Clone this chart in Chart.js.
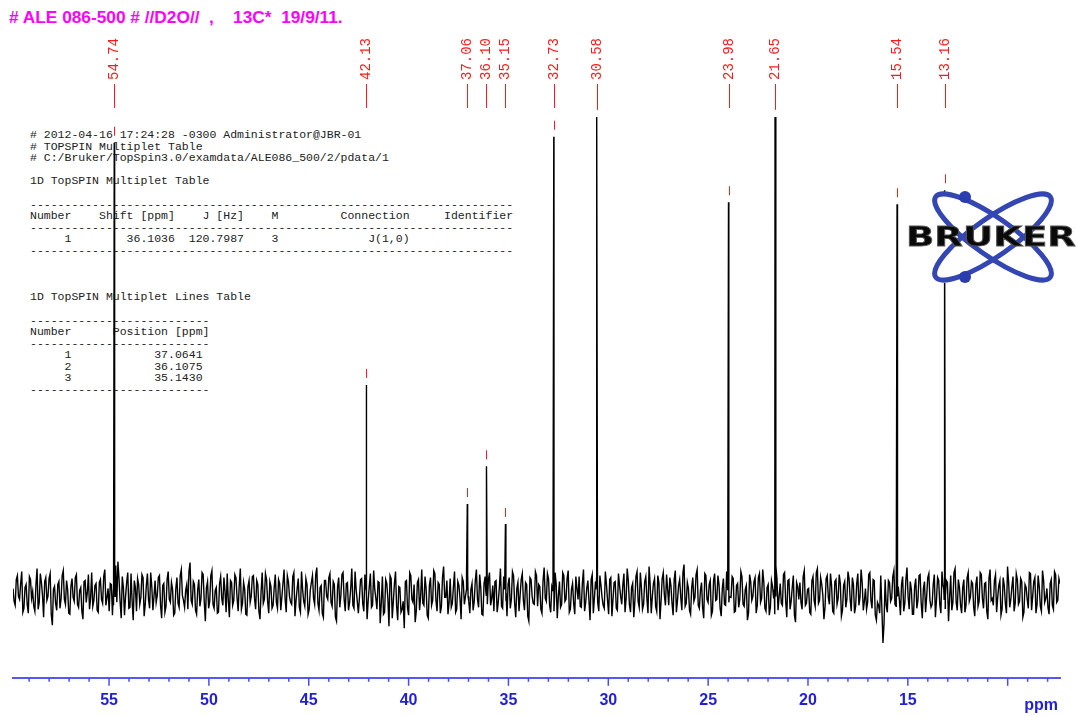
<!DOCTYPE html>
<html>
<head>
<meta charset="utf-8">
<script src="https://cdn.jsdelivr.net/npm/chart.js@4.4.1/dist/chart.umd.min.js"></script>
<style>
  body { margin: 0; background: #fff; }
  #wrap { position: relative; width: 1076px; height: 716px; overflow: hidden; }
  #title { position: absolute; left: 9px; top: 9px; font: bold 17.3px "Liberation Sans", Arial, sans-serif; line-height: 17px; color: #ff00ff; white-space: pre; }
  #table { position: absolute; left: 30px; top: 129px; margin: 0; font: 11.5px "Liberation Mono", monospace; line-height: 11.6px; color: #222; z-index: 0; }
  #spec { position: absolute; left: 0; top: 0; z-index: 1; }
  #logo { position: absolute; left: 900px; top: 188px; z-index: 2; }
</style>
</head>
<body>
<div id="wrap">
<div id="title"># ALE 086-500 # //D2O//  ,    13C*  19/9/11.</div>
<pre id="table"># 2012-04-16 17:24:28 -0300 Administrator@JBR-01
# TOPSPIN Multiplet Table
# C:/Bruker/TopSpin3.0/examdata/ALE086_500/2/pdata/1

1D TopSPIN Multiplet Table

----------------------------------------------------------------------
Number    Shift [ppm]    J [Hz]    M         Connection     Identifier
----------------------------------------------------------------------
     1        36.1036  120.7987    3             J(1,0)
----------------------------------------------------------------------



1D TopSPIN Multiplet Lines Table

--------------------------
Number      Position [ppm]
--------------------------
     1            37.0641
     2            36.1075
     3            35.1430
--------------------------</pre>
<canvas id="spec" width="1076" height="716"></canvas>
<svg id="logo" width="176" height="100" viewBox="900 188 176 100">
  <rect x="930" y="192" width="146" height="91" fill="#fff"/>
  <ellipse cx="993" cy="237" rx="70" ry="19" transform="rotate(35 993 237)" fill="none" stroke="#3346b3" stroke-width="5"/>
  <ellipse cx="993" cy="237" rx="70" ry="19" transform="rotate(-35 993 237)" fill="none" stroke="#3346b3" stroke-width="5"/>
  <circle cx="965" cy="197" r="6" fill="#2a3cb0"/>
  <circle cx="965" cy="277" r="6" fill="#2a3cb0"/>
  <text x="906" y="246" font-family="DejaVu Sans" font-weight="bold" font-size="27" textLength="170" lengthAdjust="spacingAndGlyphs" fill="#0a0a0a" stroke="#555" stroke-width="0.8">BRUKER</text>
</svg>
</div>
<script>
const spectrum_canvas = document.getElementById("spec");

// ppm range of the plot
const ppmLeft = 59.81;
const ppmRight = 7.38;

// labelled peaks and their heights (above baseline)
const peakPpm = [54.74, 42.13, 37.06, 36.10, 35.15, 32.73, 30.58, 23.98, 21.65, 15.54, 13.16];
const peakHeight = [454, 210, 90, 128, 70, 460, 480, 394, 480, 392, 406];

// axis labels
const majorTicks = [55, 50, 45, 40, 35, 30, 25, 20, 15];

// baseline noise, evenly spaced samples from ppmLeft to ppmRight
const noise = [
  5,-12,18,-6,22,-15,9,-20,14,2,-18,25,-9,11,-24,16,-3,20,-32,7,
  -17,12,-5,23,-11,4,-21,15,-8,19,-14,6,-26,13,1,-16,21,-7,10,-19,
  14,-10,24,-4,-18,9,-12,28,32,-8,17,-22,11,-15,20,-27,6,15,-11,19,
  -23,8,-6,21,-17,13,-2,18,-25,10,-13,22,-9,4,-20,16,-14,24,-7,3,
  -16,31,-11,9,-21,14,-5,19,-28,12,-8,23,-15,6,-19,17,-12,2,20,-24,
  11,-7,16,-18,25,-10,4,-22,13,-3,18,-16,9,-26,21,-6,14,-20,7,-12,
  19,-15,10,-4,24,-19,12,-9,17,-23,5,-14,22,-8,15,-21,3,18,-11,26,
  -17,8,-24,13,-6,20,-13,9,-28,16,-2,21,-18,11,-9,25,-15,4,-20,14,
  -10,19,-26,7,-14,23,-5,12,-30,17,-19,10,-33,15,-8,22,-27,6,-16,-35,
  13,-22,18,-9,-29,11,-17,24,-12,5,-25,16,-7,20,-18,9,-13,27,-4,-21,
  15,-10,22,-16,8,-26,12,-3,19,-20,10,-8,24,-14,6,-22,17,-11,21,-5,
  -18,13,-9,25,-15,4,-23,16,-6,18,-24,11,-2,20,-17,9,-28,14,-10,22,
  -13,7,-20,26,-8,15,-19,3,21,-25,12,-11,18,-6,23,-16,10,-21,5,17,
  -14,24,-9,13,-27,19,-4,16,-18,8,-12,22,-7,14,-23,11,-15,20,-3,9,
  -19,25,-11,6,-24,17,-8,21,-16,12,-5,27,-20,10,-13,18,-26,15,-2,19,
  -12,8,-22,23,-7,14,-17,29,-10,5,-21,16,-4,24,-15,11,-25,18,-9,13,
  -18,20,-6,9,-23,15,-12,26,-3,17,-19,8,-14,22,-11,4,-27,19,-7,12,
  -20,16,-9,24,-15,6,-22,13,-5,28,-17,10,-12,21,-24,14,-8,18,-29,7,
  11,-16,23,-10,5,-21,17,-13,25,-7,9,-26,15,-4,20,-18,12,-11,19,-23,
  8,-14,22,-6,16,-20,10,-12,24,-17,5,-9,21,-15,13,-27,-12,18,-50,14,
  -19,11,-5,23,-13,7,-22,17,-10,26,-16,4,-21,15,-7,19,-25,12,-3,20,
  -14,9,-24,16,-11,22,-6,13,-28,18,-9,25,-17,6,-20,14,-12,21,-4,10,
  -23,17,-8,19,-15,11,-26,24,-5,13,-19,8,-22,16,-10,27,-14,7,-18,20,
  -11,15,-24,9,-6,21,-17,12,-20,18,-13,23,-9,5,-21,14,-16,19,-7,10
];

// noise samples lying half a step after each of the above
const noiseOdd = [
  -8,14,-3,10,-19,6,-11,17,-5,-13,9,-16,20,-2,12,-7,15,-21,4,-10,
  9,-15,18,-6,13,-20,7,-4,16,-11,3,-18,12,-9,19,-5,-13,8,-17,11,
  -6,17,-12,5,10,-22,19,-9,15,-25,6,-3,21,-14,-8,13,-18,9,-4,16,
  -11,20,-15,7,-3,-9,16,-12,8,-19,14,-6,11,-22,5,-10,18,-2,-14,9,
  22,-7,12,-17,4,-13,21,-8,6,-15,18,-11,3,-20,10,-5,16,-19,-7,13,
  -12,19,-4,8,-16,11,-21,7,-9,17,-5,13,-18,2,-10,20,-8,12,-15,6,
  -9,14,-17,10,-6,18,-3,-11,21,-7,15,-19,4,-13,9,-16,11,-5,19,-10,
  6,-20,13,-3,16,-9,12,-24,7,-14,19,-6,10,-17,5,-12,22,-8,-4,15,
  -18,9,-7,20,-12,4,-16,11,-9,-21,14,-5,18,-25,10,-13,7,-19,-8,12,
  -15,21,-6,9,-18,14,-3,-10,17,-22,8,-12,23,-7,11,-20,16,-4,13,-9,
  -14,7,-19,12,-5,16,-11,20,-8,4,-17,13,-6,19,-21,10,-2,14,-12,8,
  12,-19,6,-13,17,-4,9,-15,22,-10,5,-18,14,-7,11,-23,16,-3,-11,18,
  9,-16,13,-5,20,-12,7,-18,10,-3,-14,21,-8,15,-19,4,-10,17,-6,-13,
  11,-18,5,-7,14,-20,12,-9,18,-4,-15,9,-21,16,-6,12,-17,8,-11,20,
  -5,13,-19,10,-8,22,-14,6,-11,17,-20,9,-3,15,-18,11,-7,21,-12,4,
  16,-10,14,-19,8,-4,21,-13,11,-17,6,-8,19,-12,3,-15,20,-6,9,-22,
  13,-7,18,-15,5,-11,22,-9,-4,15,-18,10,-6,17,-13,8,-20,12,-3,16,
  -12,20,-5,11,-18,9,-14,7,-21,15,-3,-10,19,-8,13,-16,6,-22,11,-6,
  -9,17,-12,4,-19,13,-7,21,-10,16,-2,-14,18,-11,8,-20,14,-5,10,-17,
  12,-6,15,-18,9,-13,20,-4,11,-8,-16,19,-7,14,-22,-9,-20,-15,-30,-12,
  13,-8,17,-11,20,-6,9,-18,14,-3,12,-21,7,-15,18,-10,5,-19,16,-7,
  -11,19,-6,13,-20,8,-15,11,-4,-17,21,-9,14,-12,6,-19,16,-8,12,-14,
  9,-13,21,-5,10,-18,15,-7,-12,19,-4,13,-16,8,-20,11,-6,17,-10,14,
  -8,12,-19,6,-15,20,-3,16,-11,7,-18,13,-5,-14,10,-12,22,-9,15
];

function buildPoints(){
    let pts = [];
    let step = (ppmLeft - ppmRight) / (noise.length - 1);
    for(let i = 0; i < noise.length; i++){
        pts.push({x: ppmLeft - i * step, y: noise[i]});
    }
    for(let i = 0; i < noiseOdd.length; i++){
        pts.push({x: ppmLeft - (i + 0.5) * step, y: noiseOdd[i]});
    }
    for(let i = 0; i < peakPpm.length; i++){
        pts.push({x: peakPpm[i] + 0.04, y: 4});
        pts.push({x: peakPpm[i], y: peakHeight[i]});
        pts.push({x: peakPpm[i] - 0.04, y: -3});
    }
    pts.sort((a, b) => b.x - a.x);
    return pts;
}

const blue = '#1f1fe0';

const peakMarks = {
    id: 'peakMarks',
    afterDraw(chart){
        const ctx = chart.ctx;
        const xs = chart.scales.x;
        const ys = chart.scales.y;
        const area = chart.chartArea;
        ctx.save();

        // axis tick marks, long on the labelled values
        ctx.strokeStyle = '#4b4bf5';
        ctx.lineWidth = 1.5;
        xs.ticks.forEach(t => {
            if(t.value < ppmRight || t.value > ppmLeft) return;
            let px = xs.getPixelForValue(t.value);
            let len = t.value % 5 === 0 ? 8 : 4;
            ctx.beginPath();
            ctx.moveTo(px, area.bottom);
            ctx.lineTo(px, area.bottom + len);
            ctx.stroke();
        });

        ctx.fillStyle = blue;
        ctx.font = 'bold 16px "Liberation Sans"';
        ctx.textAlign = 'right';
        ctx.textBaseline = 'middle';
        ctx.fillText('ppm', area.right - 2, 706);

        // peak labels + markers
        ctx.strokeStyle = '#ff1a1a';
        ctx.fillStyle = '#ff1a1a';
        ctx.lineWidth = 1;
        ctx.font = '14px "Liberation Mono"';
        for(let i = 0; i < peakPpm.length; i++){
            let px = Math.round(xs.getPixelForValue(peakPpm[i])) + 0.5;
            let py = ys.getPixelForValue(peakHeight[i]);
            ctx.beginPath();
            ctx.moveTo(px, 84);
            ctx.lineTo(px, 108);
            ctx.moveTo(px, py - 16);
            ctx.lineTo(px, py - 7);
            ctx.stroke();
            ctx.save();
            ctx.translate(px, 80);
            ctx.rotate(-Math.PI / 2);
            ctx.textAlign = 'left';
            ctx.textBaseline = 'middle';
            ctx.fillText(peakPpm[i].toFixed(2), 0, 0);
            ctx.restore();
        }
        ctx.restore();
    }
};

let spectrumChart = new Chart(spectrum_canvas, {
    type: 'line',
    data: {
        datasets: [{
            label: '13C',
            data: buildPoints(),
            borderColor: '#000',
            borderWidth: 1.4,
            pointRadius: 0,
            tension: 0,
            fill: false
        }]
    },
    options: {
        responsive: false,
        animation: false,
        events: [],
        layout: { padding: { top: 100, left: 13, right: 16, bottom: 1 } },
        plugins: { legend: { display: false }, tooltip: { enabled: false }, title: { display: false } },
        scales: {
            x: {
                type: 'linear',
                reverse: true,
                min: ppmRight,
                max: ppmLeft,
                border: { display: true, color: '#5656ff', width: 2 },
                grid: { drawOnChartArea: false, drawTicks: true, tickLength: 8, color: 'rgba(0,0,0,0)' },
                ticks: {
                    stepSize: 1,
                    includeBounds: false,
                    autoSkip: false,
                    maxRotation: 0,
                    maxTicksLimit: 100,
                    padding: 5,
                    color: blue,
                    font: { family: '"Liberation Sans"', size: 16, weight: 'bold' },
                    callback: (v) => majorTicks.includes(v) ? String(v) : ''
                }
            },
            y: {
                display: false,
                min: -85,
                max: 497
            }
        }
    },
    plugins: [peakMarks]
});
</script>
</body>
</html>
